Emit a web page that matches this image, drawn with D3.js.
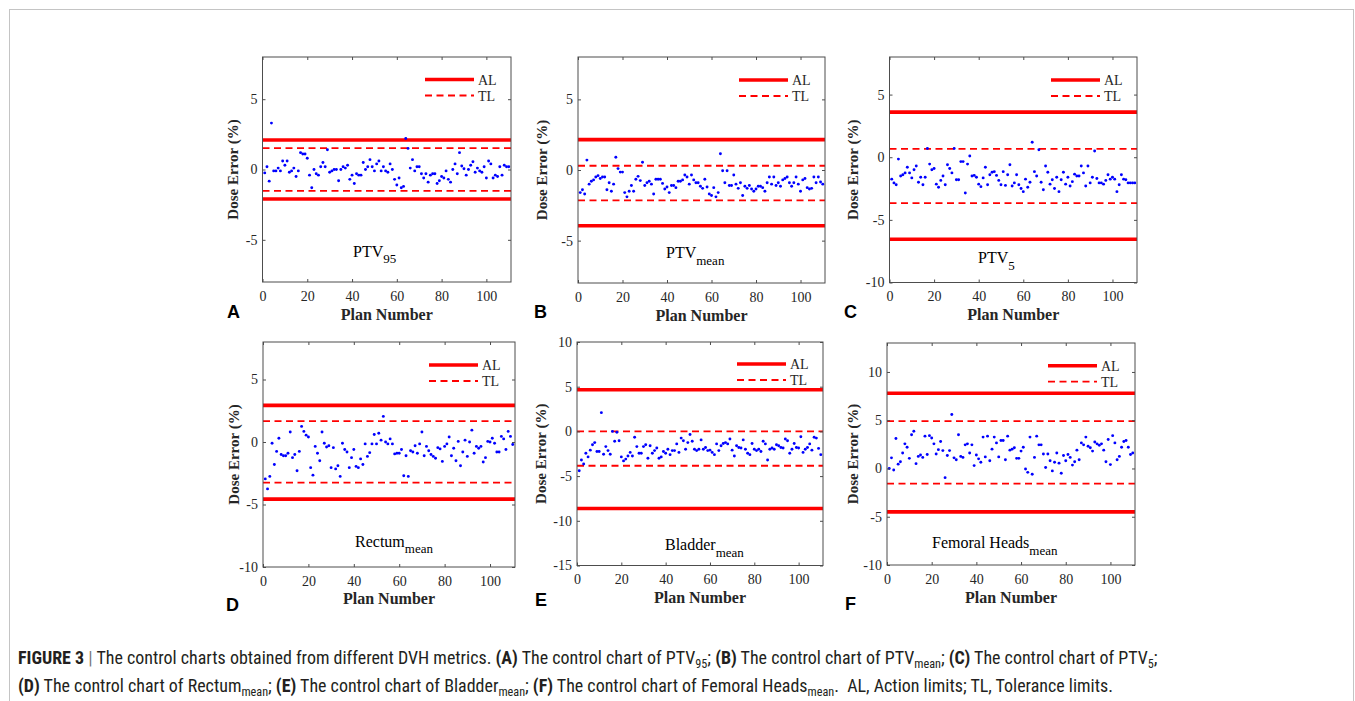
<!DOCTYPE html>
<html><head><meta charset="utf-8">
<script src="https://cdn.jsdelivr.net/npm/d3@7"></script>
<style>body{margin:0;background:#fff}svg{display:block}</style>
</head><body>
<svg id="chart" width="1355" height="701"></svg>
<script>
// ---------------- DATA ----------------
const planNumbers = d3.range(1, 111);
const xTickValues = [0, 20, 40, 60, 80, 100];
const xDomain = [0, 111];

const ptv95Values = [
 -0.24,0.2,-0.83,3.3,-0.1,-0.1,0.1,-0.1,0.6,0.3,
 0.6,-0.2,-0.1,0.1,-0.5,-0.1,1.2,1.1,1.1,0.8,
 -0.4,-1.3,0,-0.3,-0.4,0.2,0.5,0.2,1.4,-0.2,
 -0.1,0,0,-0.8,0,0.2,0.1,0.3,-0.7,-0.4,
 -1.0,-0.3,-0.4,-0.4,0.5,0,0.2,0.7,0.2,-0.1,
 0.4,0.6,-0.1,0.2,-0.1,-0.2,0.4,0,-0.7,-1.1,
 -0.6,-1.3,-1.2,2.2,1.5,0.1,0.7,-0.1,0.2,0.2,
 -0.3,-0.6,-0.3,-0.9,-0.4,-0.3,-0.3,-1.0,-0.8,-0.5,
 -0.6,-0.1,-0.7,-0.9,0,0.4,-0.3,1.2,0.25,0.05,
 -0.4,0,0.3,0.55,-0.2,0.1,-0.1,-0.2,0.2,-0.6,
 0.6,0.4,-0.6,-0.4,-0.5,0.2,-0.4,0.3,0.2,0.2];
const ptvMeanValues = [
 -1.6,-1.4,-1.7,0.7,-1.0,-0.8,-0.7,-0.5,-0.4,-0.6,
 -0.5,-0.5,-1.4,-0.9,-1.5,-1.0,0.9,0.1,-0.15,-0.15,
 -1.6,-1.9,-1.5,-1.1,-1.5,-0.65,-0.45,-0.75,0.55,-1.1,
 -0.9,-0.8,-1.0,-1.7,-0.65,-0.65,-0.65,-0.95,-1.35,-1.2,
 -1.6,-1.1,-1.1,-1.25,-0.8,-0.8,-0.7,-0.35,-0.5,-1.0,
 -0.35,-0.7,-0.9,-0.9,-1.15,-1.3,-0.65,-1.2,-1.7,-1.8,
 -1.25,-1.9,-1.6,1.15,-0.05,-0.9,-0.05,-1.1,-1.1,-0.35,
 -1.0,-1.3,-0.9,-1.8,-1.15,-1.3,-1.1,-1.35,-1.5,-1.35,
 -1.15,-1.15,-1.25,-1.5,-0.9,-0.5,-1.0,-0.5,-1.1,-0.9,
 -1.15,-0.7,-0.6,-0.5,-0.9,-1.15,-0.9,-0.5,-1.0,-1.5,
 -0.7,-0.6,-1.25,-1.35,-1.3,-0.5,-0.9,-0.5,-0.85,-1.0];
const ptv5Values = [
 -1.75,-2.05,-2.2,-0.15,-1.5,-1.4,-1.25,-0.8,-1.25,-1.65,
 -1.0,-0.7,-2.0,-1.6,-2.2,-1.6,0.7,-0.55,-1.0,-0.9,
 -2.15,-2.4,-1.85,-1.5,-2.2,-0.6,-0.9,-1.25,0.7,-1.8,
 -1.8,-0.35,-0.35,-2.85,-0.55,0.1,-1.5,-1.45,-1.6,-2.15,
 -2.35,-1.65,-0.8,-2.2,-1.4,-1.2,-1.15,-1.45,-1.85,-2.2,
 -1.15,-2.25,-1.4,-0.6,-2.3,-2.05,-1.4,-2.2,-2.5,-2.75,
 -1.75,-2.4,-2.0,1.2,-1.15,-1.5,0.6,-2.0,-2.6,-0.7,
 -1.2,-2.15,-1.8,-2.5,-1.6,-2.75,-1.8,-1.2,-2.15,-1.6,
 -2.3,-1.95,-1.35,-1.5,-1.5,-0.7,-1.25,-2.3,-0.7,-2.05,
 -1.6,0.5,-1.7,-2.05,-2.05,-2.15,-1.85,-1.4,-1.75,-1.6,
 -1.75,-2.75,-2.2,-1.4,-1.75,-1.8,-2.05,-2.05,-2.05,-2.05];
const rectumMeanValues = [
 -2.95,-3.75,-2.75,-0.1,-1.8,-0.75,0.3,-1.0,-1.1,-1.1,
 -0.9,0.8,-1.25,-1.0,-2.3,-0.75,1.25,0.85,0.55,0.4,
 -2.05,-2.65,-0.35,-0.9,-1.5,0.8,-0.1,-0.4,-0.3,-2.05,
 -0.45,-2.15,-1.9,-2.75,-0.1,-0.6,-0.8,-2.05,-1.25,-0.6,
 -1.95,-2.05,-1.35,-1.8,-0.15,-1.15,-0.85,-0.15,0.6,-0.15,
 0.7,0.15,2.05,0,-0.15,0.25,-0.15,-0.95,-0.9,-0.9,
 -0.6,-2.7,-1.1,-2.75,-0.7,-0.8,-0.3,-0.9,-0.15,0.8,
 -1.1,-0.35,-0.7,-1.0,-1.15,-1.3,-0.45,-0.55,-1.55,-0.35,
 -0.15,0.4,-1.1,-0.5,-1.5,0.05,-1.9,-0.8,0.15,-1.15,
 0,0.95,-0.9,-0.35,-0.5,-0.35,-1.6,-1.25,0.05,0,
 0.3,-0.1,-0.8,-0.8,0.45,0.25,-0.6,0.85,0.45,-0.2];
const bladderMeanValues = [
 -4.4,-3.2,-3.65,-2.45,-2.85,-2.1,-1.5,-1.25,-2.25,-2.25,
 2.1,-2.55,-1.7,-2.15,-2.55,0,-1.1,-0.1,-1.05,-2.85,
 -3.3,-3.1,-2.75,-2.35,-2.75,-0.65,-1.7,-2.45,-2.45,-1.7,
 -1.5,-3.0,-1.6,-2.45,-2.15,-1.85,-3.0,-2.85,-2.25,-2.45,
 -2.0,-2.6,-2.15,-2.15,-1.4,-2.35,-0.75,-1.05,-2.0,-1.25,
 -0.35,-1.1,-2.0,-2.15,-2.0,-0.95,-2.0,-1.8,-2.15,-2.1,
 -2.35,-2.6,-1.4,-2.15,-1.6,-1.35,-1.25,-1.4,-0.85,-2.1,
 -2.75,-1.6,-1.8,-1.85,-0.95,-2.0,-2.45,-2.6,-1.35,-2.0,
 -2.15,-2.0,-2.25,-1.1,-1.4,-3.2,-2.0,-1.85,-2.0,-1.5,
 -1.6,-1.8,-1.85,-0.85,-1.05,-2.45,-2.0,-1.35,-1.8,-1.85,
 -0.6,-2.35,-2.0,-1.8,-1.4,-2.1,-0.65,-0.75,-1.9,-2.6];
const femoralHeadsMeanValues = [
 0,1.1,-0.15,3.1,0.45,0.7,1.6,2.55,2.2,1.05,
 3.5,3.85,0.5,1.25,1.4,1.15,3.35,1.45,3.4,3.15,
 2.55,1.5,1.95,2.8,1.85,-0.95,1.35,1.85,5.6,1.1,
 0.9,3.5,1.25,1.15,2.45,2.55,1.6,2.45,0.3,1.4,
 1.0,0.65,3.25,1.2,3.35,0.8,2.0,3.25,2.65,1.2,
 2.9,2.9,0.9,3.35,1.9,2.0,2.15,1.05,1.05,1.8,
 2.2,-0.05,-0.4,3.25,-0.6,1.15,3.35,2.45,2.45,1.5,
 0.1,1.5,0.8,-0.25,0.65,1.6,0.55,-0.5,1.35,0.8,
 1.45,1.15,0.35,0.7,1.9,0.9,2.65,2.45,3.25,2.3,
 2.15,1.8,2.75,2.55,2.4,2.55,1.9,0.7,3.0,0.4,
 3.4,2.65,0.9,1.25,2.2,2.8,2.9,2.2,1.45,1.6];

// action limits (AL) and tolerance limits (TL): [upper, lower]
const ptv95AL = [2.1, -2.1],      ptv95TL = [1.52, -1.52];
const ptvMeanAL = [2.15, -3.95],  ptvMeanTL = [0.3, -2.15];
const ptv5AL = [3.6, -6.55],      ptv5TL = [0.67, -3.66];
const rectumAL = [2.93, -4.57],   rectumTL = [1.67, -3.25];
const bladderAL = [4.66, -8.62],  bladderTL = [0, -3.84];
const femoralAL = [7.8, -4.5],    femoralTL = [4.9, -1.57];

const yDomains = [[-8, 8], [-8, 8], [-10, 8], [-10, 8], [-15, 10], [-10, 13]];
const yTickValues = [[-5, 0, 5], [-5, 0, 5], [-10, -5, 0, 5], [-10, -5, 0, 5],
                     [-15, -10, -5, 0, 5, 10], [-10, -5, 0, 5, 10]];
const metricNames = ["PTV", "PTV", "PTV", "Rectum", "Bladder", "Femoral Heads"];
const metricSubs = ["95", "mean", "5", "mean", "mean", "mean"];
const panelLetters = ["A", "B", "C", "D", "E", "F"];
const legendLabels = ["AL", "TL"];

const seriesList = [ptv95Values, ptvMeanValues, ptv5Values, rectumMeanValues, bladderMeanValues, femoralHeadsMeanValues];
const alList = [ptv95AL, ptvMeanAL, ptv5AL, rectumAL, bladderAL, femoralAL];
const tlList = [ptv95TL, ptvMeanTL, ptv5TL, rectumTL, bladderTL, femoralTL];

// ---------------- LAYOUT ----------------
const layout = [
  {box:[262.5, 57, 511, 282],  yLabX:232.5, letter:[227, 318], legend:[425, 79.5], note:[353, 256.7], planY:320},
  {box:[578, 57, 825, 283],    yLabX:541.5, letter:[534, 318], legend:[739, 80],   note:[666, 258],   planY:321},
  {box:[889.5, 57, 1137, 282.5], yLabX:853, letter:[844, 318], legend:[1051, 80],  note:[978, 263.3], planY:320},
  {box:[263, 342, 515, 567],   yLabX:233.5, letter:[226, 611], legend:[429, 365],  note:[355, 546.7], planY:604},
  {box:[577, 342, 823, 565.5], yLabX:540.3, letter:[535, 606], legend:[737, 364],  note:[665, 550],   planY:603},
  {box:[887, 343, 1135, 565],  yLabX:852.5, letter:[845, 610], legend:[1048, 365.7], note:[932, 548.3], planY:603}
];

const SERIF = "'Liberation Serif','Times New Roman',serif";
const SANS = "'Liberation Sans',Arial,sans-serif";
const RED = "#ff0000", BLUE = "#0000ff", AXIS = "#4d4d4d", TXT = "#262626";

const svg = d3.select("#chart");

// outer frame
svg.append("rect").attr("x", 9.5).attr("y", 9.5).attr("width", 1344).attr("height", 720)
  .attr("fill", "none").attr("stroke", "#c4c4c4").attr("stroke-width", 1);

const fmt = d => String(d);

layout.forEach((L, i) => {
  const [x0, y0, x1, y1] = L.box;
  const x = d3.scaleLinear().domain(xDomain).range([x0, x1]);
  const y = d3.scaleLinear().domain(yDomains[i]).range([y1, y0]);
  const g = svg.append("g");
  const clipId = "clip" + i;
  g.append("clipPath").attr("id", clipId).append("rect")
    .attr("x", x0).attr("y", y0).attr("width", x1 - x0).attr("height", y1 - y0);

  // limit lines
  const lim = g.append("g").attr("clip-path", `url(#${clipId})`);
  lim.selectAll("line.al").data(alList[i]).join("line").attr("class", "al")
    .attr("x1", x(xDomain[0])).attr("x2", x(xDomain[1]))
    .attr("y1", d => y(d)).attr("y2", d => y(d))
    .attr("stroke", RED).attr("stroke-width", 3.6);
  lim.selectAll("line.tl").data(tlList[i]).join("line").attr("class", "tl")
    .attr("x1", x(xDomain[0])).attr("x2", x(xDomain[1]))
    .attr("y1", d => y(d)).attr("y2", d => y(d))
    .attr("stroke", RED).attr("stroke-width", 1.8).attr("stroke-dasharray", "7,4.5");

  // points
  g.append("g").attr("clip-path", `url(#${clipId})`)
    .selectAll("circle").data(seriesList[i]).join("circle")
    .attr("cx", (d, k) => x(planNumbers[k])).attr("cy", d => y(d))
    .attr("r", 1.45).attr("fill", BLUE);

  // axes
  const styleAxis = (sel, withText) => {
    sel.select(".domain").remove();
    sel.selectAll(".tick line").attr("stroke", AXIS).attr("stroke-width", 1);
    sel.selectAll(".tick text").attr("fill", TXT).style("font-family", SERIF).style("font-size", "14px");
    if (!withText) sel.selectAll(".tick text").remove();
  };
  g.append("g").attr("transform", `translate(0,${y1})`)
    .call(d3.axisBottom(x).tickValues(xTickValues).tickFormat(fmt).tickSizeInner(-3).tickSizeOuter(0).tickPadding(9))
    .call(s => styleAxis(s, true));
  g.append("g").attr("transform", `translate(0,${y0})`)
    .call(d3.axisTop(x).tickValues(xTickValues).tickSizeInner(-3).tickSizeOuter(0))
    .call(s => styleAxis(s, false));
  g.append("g").attr("transform", `translate(${x0},0)`)
    .call(d3.axisLeft(y).tickValues(yTickValues[i]).tickFormat(fmt).tickSizeInner(-3).tickSizeOuter(0).tickPadding(5))
    .call(s => styleAxis(s, true));
  g.append("g").attr("transform", `translate(${x1},0)`)
    .call(d3.axisRight(y).tickValues(yTickValues[i]).tickSizeInner(-3).tickSizeOuter(0))
    .call(s => styleAxis(s, false));

  // box
  g.append("rect").attr("x", x0).attr("y", y0).attr("width", x1 - x0).attr("height", y1 - y0)
    .attr("fill", "none").attr("stroke", AXIS).attr("stroke-width", 1);

  // legend
  const [lx, ly] = L.legend;
  const leg = g.append("g");
  legendLabels.forEach((lab, k) => {
    const yy = ly + k * 16;
    leg.append("line").attr("x1", lx).attr("x2", lx + 49).attr("y1", yy).attr("y2", yy)
      .attr("stroke", RED).attr("stroke-width", k === 0 ? 3.6 : 1.8)
      .attr("stroke-dasharray", k === 0 ? null : "7,4.5");
    leg.append("text").attr("x", lx + 53).attr("y", yy + 5).text(lab)
      .attr("fill", TXT).style("font-family", SERIF).style("font-size", "14px");
  });

  // metric annotation
  const note = g.append("text").attr("x", L.note[0]).attr("y", L.note[1])
    .attr("fill", "#000").style("font-family", SERIF).style("font-size", "16px");
  note.append("tspan").text(metricNames[i]);
  note.append("tspan").attr("dy", 6.6).style("font-size", "13px").text(metricSubs[i]);

  // axis titles
  g.append("text").attr("transform", `translate(${L.yLabX},${(y0 + y1) / 2}) rotate(-90)`)
    .attr("text-anchor", "middle").attr("dy", "0.35em").text("Dose Error (%)")
    .attr("fill", TXT).style("font-family", SERIF).style("font-size", "15px").style("font-weight", "bold");
  g.append("text").attr("x", (x0 + x1) / 2).attr("y", L.planY).attr("text-anchor", "middle")
    .text("Plan Number").attr("fill", TXT).style("font-family", SERIF).style("font-size", "16px").style("font-weight", "bold");

  // panel letter
  g.append("text").attr("x", L.letter[0]).attr("y", L.letter[1]).text(panelLetters[i])
    .attr("fill", "#000").style("font-family", SANS).style("font-size", "18px").style("font-weight", "bold");
});

// ---------------- CAPTION ----------------
const captionLines = [
  [["b","FIGURE 3"],["l"," | "],["n","The control charts obtained from different DVH metrics. "],["b","(A)"],["n"," The control chart of PTV"],["s","95"],["n","; "],["b","(B)"],["n"," The control chart of PTV"],["s","mean"],["n","; "],["b","(C)"],["n"," The control chart of PTV"],["s","5"],["n",";"]],
  [["b","(D)"],["n"," The control chart of Rectum"],["s","mean"],["n","; "],["b","(E)"],["n"," The control chart of Bladder"],["s","mean"],["n","; "],["b","(F)"],["n"," The control chart of Femoral Heads"],["s","mean"],["n",".  AL, Action limits; TL, Tolerance limits."]]
];
const capFont = "'Roboto Condensed','DejaVu Sans Condensed',sans-serif";
const capNodes = captionLines.map((segs, li) => {
  const t = svg.append("text").attr("x", 18).attr("y", li === 0 ? 664 : 691.5)
    .attr("fill", "#231f20").style("font-family", capFont).style("font-size", "18px")
    .style("white-space", "pre");
  let sub = false;
  segs.forEach(([k, s]) => {
    const ts = t.append("tspan").text(s);
    if (k === "b") ts.style("font-weight", "bold");
    if (k === "l") ts.attr("fill", "#777");
    if (k === "s") { ts.style("font-size", "0.68em").attr("dy", 4); sub = true; }
    else if (sub) { ts.attr("dy", -4); sub = false; }
  });
  return t;
});
const w0 = capNodes[0].node().getComputedTextLength();
const fs = 18 * 1140 / w0;
capNodes.forEach(t => t.style("font-size", fs + "px"));
</script>
</body></html>
